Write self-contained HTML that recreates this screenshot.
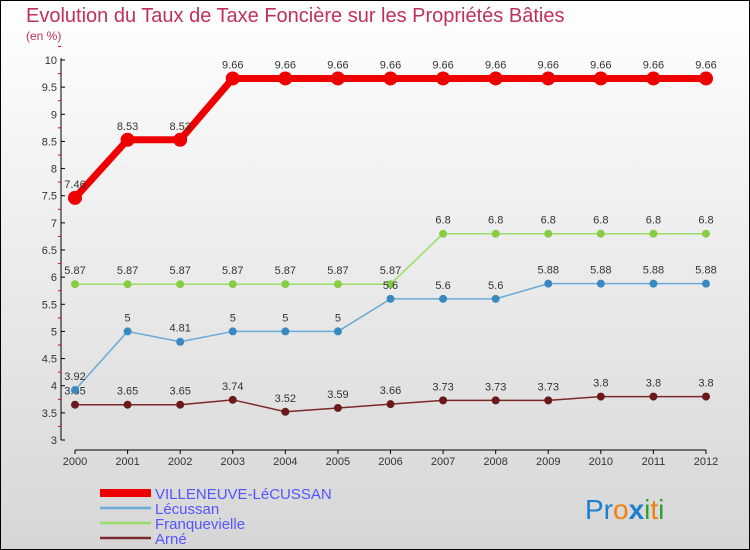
<!DOCTYPE html>
<html><head><meta charset="utf-8"><style>
body{margin:0}
#c{width:750px;height:550px;position:relative;box-sizing:border-box;border:1px solid #000;background:linear-gradient(#fff,#d6d6d6);font-family:"Liberation Sans",sans-serif;overflow:hidden}
</style></head><body>
<div id="c">
<svg id="s" width="750" height="550" style="position:absolute;left:-1px;top:-1px">
<text x="26" y="22" font-size="20" fill="#c0305a">Evolution du Taux de Taxe Foncière sur les Propriétés Bâties</text>
<text x="26" y="40" font-size="12" fill="#c0305a">(en %)</text>
<text x="585" y="519" font-size="28"><tspan fill="#1a7fd0">Pr</tspan><tspan fill="#f08010">o</tspan><tspan fill="#1a7fd0" font-weight="bold">x</tspan><tspan fill="#30a030">i</tspan><tspan fill="#f08010">t</tspan><tspan fill="#30a030">i</tspan></text>
</svg>
</div>
<script>
const years=[2000,2001,2002,2003,2004,2005,2006,2007,2008,2009,2010,2011,2012];
const villeneuve=[7.46,8.53,8.53,9.66,9.66,9.66,9.66,9.66,9.66,9.66,9.66,9.66,9.66];
const lecussan=[3.92,5,4.81,5,5,5,5.6,5.6,5.6,5.88,5.88,5.88,5.88];
const franquevielle=[5.87,5.87,5.87,5.87,5.87,5.87,5.87,6.8,6.8,6.8,6.8,6.8,6.8];
const arne=[3.65,3.65,3.65,3.74,3.52,3.59,3.66,3.73,3.73,3.73,3.8,3.8,3.8];
const yTicks=[3,3.5,4,4.5,5,5.5,6,6.5,7,7.5,8,8.5,9,9.5,10];
const seriesNames=["VILLENEUVE-LéCUSSAN","Lécussan","Franquevielle","Arné"];
const NS="http://www.w3.org/2000/svg",s=document.getElementById('s');
const X=i=>75+i*(706-75)/(years.length-1);
const Y=v=>440-(v-3)*(380/7);
function el(t,a,txt){const e=document.createElementNS(NS,t);for(const k in a)e.setAttribute(k,a[k]);if(txt!==undefined)e.textContent=txt;s.appendChild(e);return e;}
let e=el('line',{x1:61,y1:58,x2:61,y2:440,stroke:'#000'});


e=el('line',{x1:75,y1:450,x2:706,y2:450,stroke:'#000'});


yTicks.forEach(v=>{
 el('line',{x1:61,y1:Y(v),x2:65,y2:Y(v),stroke:'#000'});
 el('line',{x1:58,y1:Y(v+0.25),x2:61,y2:Y(v+0.25),stroke:'#e00'});
 const t=el('text',{x:57,y:Y(v)+4,'font-size':11,'text-anchor':'end',fill:'#333'},String(v));
 
 
});
years.forEach((y,i)=>{
 el('line',{x1:X(i),y1:450,x2:X(i),y2:454,stroke:'#000'});
 const t=el('text',{x:X(i),y:465,'font-size':11,'text-anchor':'middle',fill:'#333'},String(y));
 
 
});
function series(d,col,w,r,dot,name){
 const p=el('polyline',{points:d.map((v,i)=>X(i)+','+Y(v)).join(' '),fill:'none',stroke:col,'stroke-width':w,'stroke-linejoin':'round'});
 
 
 d.forEach((v,i)=>{
  const c=el('circle',{cx:X(i),cy:Y(v),r:r,fill:dot});
  
  
  const t=el('text',{x:X(i),y:Y(v)-10,'font-size':11,'text-anchor':'middle',fill:'#333'},String(v));
  
  
 });
}
series(arne,'#7a2a2a',1.5,4,'#6a1a1a','arne');
series(franquevielle,'#99dd66',1.5,4,'#88cc44','franquevielle');
series(lecussan,'#6aaad6',1.5,4,'#3a88c0','lecussan');
series(villeneuve,'#ee0000',7,7,'#ee0000','villeneuve');
const lc=['#ee0000','#6aaad6','#99dd66','#7a2a2a'],lw=[8,2.5,2.5,2.5];
seriesNames.forEach((n,i)=>{
 const yy=493+i*15;
 const l=el('line',{x1:100,y1:yy,x2:151,y2:yy,stroke:lc[i],'stroke-width':lw[i]});
 
 
 const t=el('text',{x:155,y:yy+6,'font-size':15,fill:'#5555ff'},n);
 
 
});
</script>
</body></html>
